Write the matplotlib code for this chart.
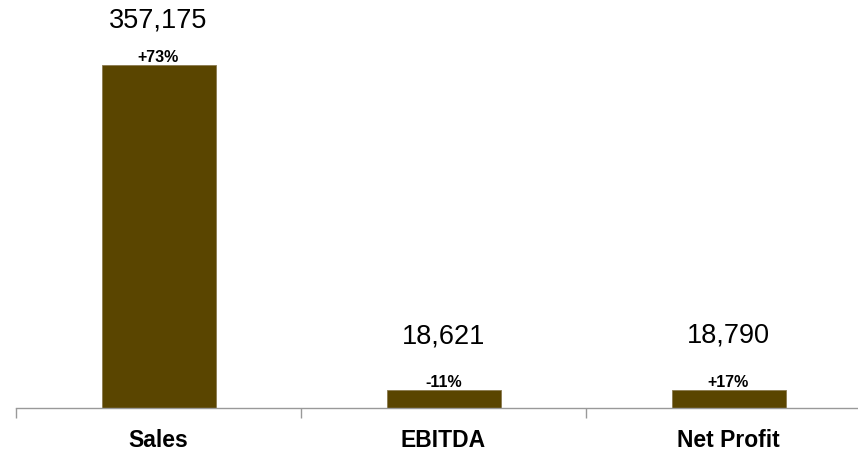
import matplotlib
matplotlib.use("Agg")
import matplotlib.pyplot as plt
import numpy as np

categories = ["Sales", "EBITDA", "Net Profit"]
values = [357175, 18621, 18790]
changes = ["+73%", "-11%", "+17%"]

plt.rcParams['font.family'] = ['Liberation Sans', 'DejaVu Sans']

fig = plt.figure(figsize=(8.58, 4.51), dpi=100)
ax = fig.add_axes([16 / 858, 43 / 451, 855 / 858, 408 / 451])

x = np.arange(len(categories))
bars = ax.bar(x, values, width=0.4, color="#5a4500", edgecolor="#8a7a50", linewidth=0.6)

ax.set_xlim(-0.5, 2.5)
ax.set_ylim(0, 425000)

# percentage changes just above bars, values above that
value_offsets = [32, 41, 41]
for xi, v, c, off in zip(x, values, changes, value_offsets):
    ax.annotate(c, (xi, v), xytext=(0, 0), textcoords="offset pixels",
                ha="center", va="bottom", fontsize=11.5, fontweight="bold")
    ax.annotate(f"{v:,}", (xi, v), xytext=(0, off), textcoords="offset pixels",
                ha="center", va="bottom", fontsize=19.5)

for s in ["top", "right", "left"]:
    ax.spines[s].set_visible(False)
ax.spines["bottom"].set_color("#999999")
ax.spines["bottom"].set_linewidth(1)
ax.set_yticks([])

ax.set_xticks([-0.5, 0.5, 1.5, 2.5])
ax.set_xticklabels([])
ax.tick_params(axis="x", length=7, color="#999999", width=1)
ax.set_xticks(x, minor=True)
ax.set_xticklabels(categories, minor=True, fontsize=16.5, fontweight="bold")
ax.tick_params(axis="x", which="minor", length=0, pad=15)

fig.savefig("out.png", dpi=100)
